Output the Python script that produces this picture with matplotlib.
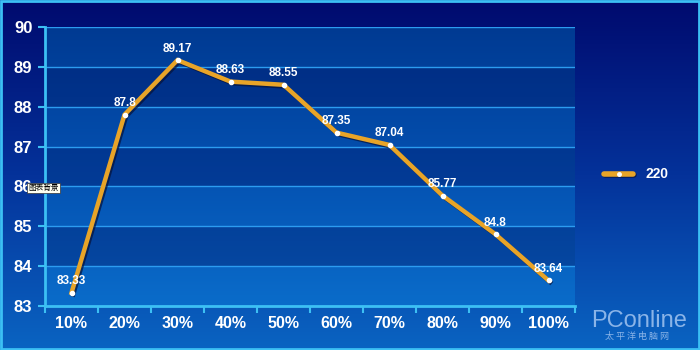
import numpy as np
import matplotlib
matplotlib.use('Agg')
import matplotlib.pyplot as plt
import matplotlib.patheffects as pe
from matplotlib.patches import Rectangle

# --------------------------------------------------
# Data
# --------------------------------------------------
categories = ['10%', '20%', '30%', '40%', '50%', '60%', '70%', '80%', '90%', '100%']
values_220 = [83.33, 87.8, 89.17, 88.63, 88.55, 87.35, 87.04, 85.77, 84.8, 83.64]
value_labels = ['83.33', '87.8', '89.17', '88.63', '88.55', '87.35', '87.04', '85.77', '84.8', '83.64']
y_ticks = [83, 84, 85, 86, 87, 88, 89, 90]
series_name = '220'

plt.rcParams['font.family'] = ['Liberation Sans', 'DejaVu Sans', 'Noto Sans CJK SC']

fig = plt.figure(figsize=(7, 3.5), dpi=100)

# figure background gradient (dark navy at top, brighter blue at bottom)
bg = fig.add_axes([0, 0, 1, 1], zorder=0)
grad = np.linspace(0, 1, 256).reshape(-1, 1)
cmap_bg = matplotlib.colors.LinearSegmentedColormap.from_list('bg', ['#000a6e', '#04329a', '#0a64c2'])
bg.imshow(grad, aspect='auto', cmap=cmap_bg, extent=[0, 1, 0, 1], origin='upper')
bg.set_xlim(0, 1)
bg.set_ylim(0, 1)
bg.axis('off')
bg.add_patch(Rectangle((0.002, 0.004), 0.996, 0.992, fill=False, edgecolor='#3cc0f4', linewidth=2))

# plot area
ax = fig.add_axes([45 / 700, 1 - 306 / 350, 530 / 700, 279 / 350], zorder=1)
ax.set_facecolor('none')
x = np.arange(len(categories))
ax.set_xlim(-0.5, len(categories) - 0.5)
ax.set_ylim(83, 90)
cmap_pa = matplotlib.colors.LinearSegmentedColormap.from_list('pa', ['#003a92', '#0450b0', '#0a6cca'])
ax.imshow(grad, aspect='auto', cmap=cmap_pa, extent=[-0.5, len(categories) - 0.5, 83, 90],
          origin='upper', zorder=0)
# darker alternate bands
for lo in [84, 86, 88]:
    ax.axhspan(lo, lo + 1, color='#001060', alpha=0.35, linewidth=0, zorder=0.5)

for yv in y_ticks:
    ax.axhline(yv, color='#2c9cf0', linewidth=1.0, zorder=1)

ax.plot(x, values_220, color='#e8a428', linewidth=3.2, solid_joinstyle='miter', zorder=3,
        path_effects=[pe.SimpleLineShadow(offset=(1.2, -1.2), shadow_color='#06123a', alpha=0.7),
                      pe.Normal()])
ax.plot(x, values_220, 'o', color='white', markersize=3, zorder=4)

for xi, yi, lab in zip(x, values_220, value_labels):
    ax.annotate(lab, (xi, yi), xytext=(0, 4), textcoords='offset points', ha='center', va='bottom',
                color='white', fontsize=8.5, fontweight='bold', zorder=5)

ax.set_xticks(x)
ax.set_xticklabels(categories)
ax.set_yticks(y_ticks)
ax.tick_params(axis='both', colors='#3cc0f4', labelcolor='white', width=1.5, length=5)
ax.tick_params(axis='x', labelsize=11.5, pad=7)
ax.tick_params(axis='y', labelsize=12, pad=4)
ax.set_xticks(np.arange(-0.5, len(categories)), minor=True)
ax.tick_params(axis='x', which='major', length=0)
ax.tick_params(axis='x', which='minor', colors='#3cc0f4', length=5, width=1.5)
for lab in ax.get_xticklabels() + ax.get_yticklabels():
    lab.set_fontweight('bold')
for side in ['top', 'right']:
    ax.spines[side].set_visible(False)
for side in ['left', 'bottom']:
    ax.spines[side].set_color('#3cc0f4')
    ax.spines[side].set_linewidth(2)

# legend
leg_ax = fig.add_axes([0, 0, 1, 1], zorder=2)
leg_ax.set_xlim(0, 700)
leg_ax.set_ylim(350, 0)
leg_ax.axis('off')
leg_ax.plot([604, 633], [174, 174], color='#e8a428', linewidth=4, solid_capstyle='round',
            path_effects=[pe.SimpleLineShadow(offset=(1, -1), shadow_color='#06123a', alpha=0.7), pe.Normal()])
leg_ax.plot([619], [174], 'o', color='white', markersize=2.5)
leg_ax.text(645, 174, series_name, color='white', fontsize=10, fontweight='bold', va='center', ha='left')

# tooltip artifact
leg_ax.text(28, 188, '图表背景', fontsize=5.5, color='black', va='center', ha='left',
            family=['Noto Sans CJK SC', 'DejaVu Sans'],
            bbox=dict(boxstyle='square,pad=0.15', facecolor='#fffff0', edgecolor='#333333', linewidth=0.5))

# watermark
leg_ax.text(639, 321, 'PConline', color='#8ab4e8', fontsize=17, ha='center', va='center',
            family=['Liberation Sans', 'DejaVu Sans'])
leg_ax.text(637, 336, '太 平 洋 电 脑 网', color='#8ab4e8', fontsize=6.5, ha='center', va='center',
            family=['Noto Sans CJK SC', 'DejaVu Sans'])

fig.savefig('out.png', dpi=100)
